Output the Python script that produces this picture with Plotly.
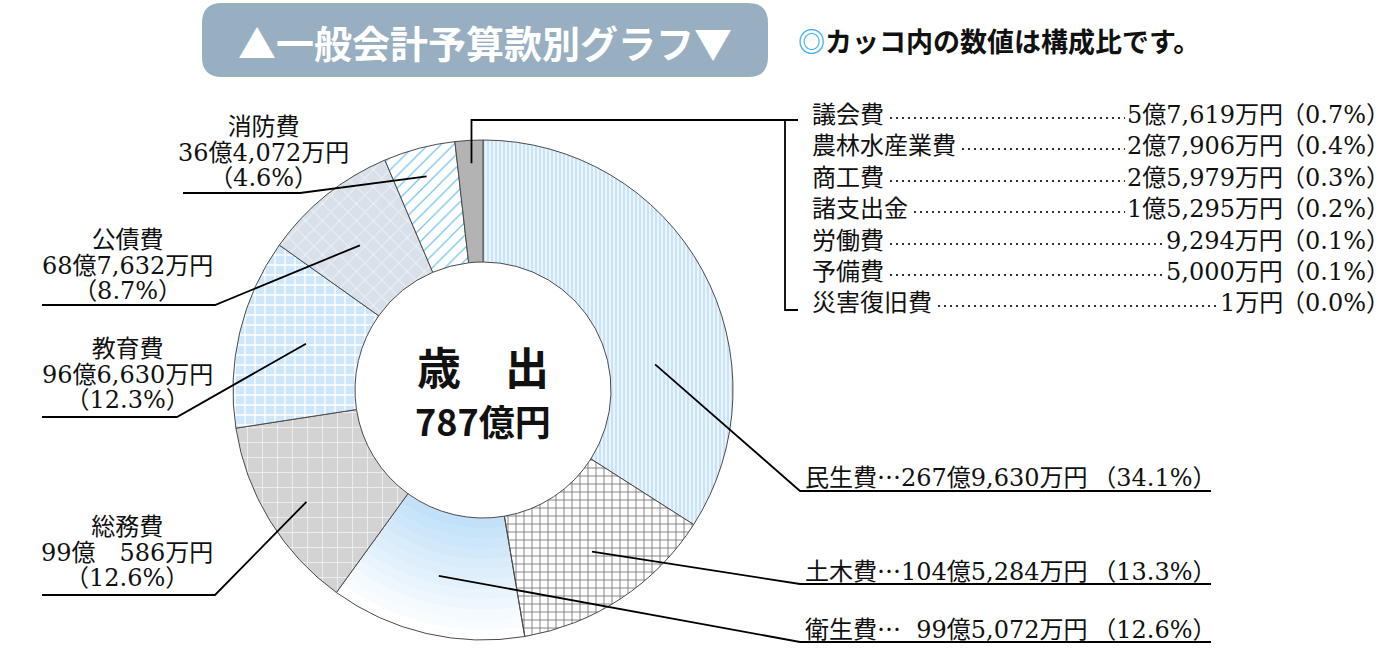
import math
import plotly.graph_objects as go

# ---------------- data ----------------
major_names = ["民生費", "土木費", "衛生費", "総務費", "教育費", "公債費", "消防費"]
major_values = [2679630, 1045284, 995072, 990586, 966630, 687632, 364072]  # 万円
major_amounts = ["267億9,630万円", "104億5,284万円", "99億5,072万円", "99億\u3000586万円",
                 "96億6,630万円", "68億7,632万円", "36億4,072万円"]
major_shares = [34.1, 13.3, 12.6, 12.6, 12.3, 8.7, 4.6]

minor_names = ["議会費", "農林水産業費", "商工費", "諸支出金", "労働費", "予備費", "災害復旧費"]
minor_values = [57619, 27906, 25979, 15295, 9294, 5000, 1]  # 万円
minor_amounts = ["5億7,619万円", "2億7,906万円", "2億5,979万円", "1億5,295万円",
                 "9,294万円", "5,000万円", "1万円"]
minor_shares = [0.7, 0.4, 0.3, 0.2, 0.1, 0.1, 0.0]

center_title = "歳\u3000出"
center_total = "787億円"
chart_title = "▲一般会計予算款別グラフ▼"
note_text = "カッコ内の数値は構成比です。"

# ---------------- layout helpers ----------------
W, H = 1394, 668
CX, CY, R_OUT, R_IN = 483, 390, 250, 128


def px(x):
    return x / W


def py(y):
    return 1 - y / H


def dom(r):
    return dict(x=[px(CX - r), px(CX + r)], y=[py(CY + r), py(CY - r)])


SERIF = "DejaVu Serif, Noto Sans CJK JP"
SANS = "Noto Sans CJK JP"
FS = 24
CLEAR = "rgba(0,0,0,0)"

slice_labels = major_names + ["その他"]
slice_values = major_values + [sum(minor_values)]
n_slices = len(slice_values)

bg = ["#c9e4f9", "#ffffff", CLEAR, "#d3d3d3", "#cfe7fa", "#d8e1e9", "#ffffff", "#b3b3b3"]
fg = ["#ffffff", "#6e6e6e", CLEAR, "#f3f3f3", "#ffffff", "#f3f6f9", "#5bbcf0", "#b3b3b3"]
shapes_pat = ["|", "+", "", "+", "+", "x", "/", ""]
sizes_pat = [4, 8, 8, 15, 10, 12, 9, 8]
solid_pat = [0.3, 0.2, 0.3, 0.1, 0.25, 0.15, 0.13, 0.3]

fig = go.Figure()

# gradient rings for 衛生費 (light blue at the inner edge fading to white outside)
N_RING = 12
grad_in, grad_out = (194, 225, 248), (255, 255, 255)
for k in range(N_RING):
    r0 = R_IN + (R_OUT - R_IN) * k / N_RING
    r1 = min(R_OUT, R_IN + (R_OUT - R_IN) * (k + 1) / N_RING + 0.6)
    f = k / (N_RING - 1)
    col = "rgb(%d,%d,%d)" % tuple(round(a + (b - a) * f) for a, b in zip(grad_in, grad_out))
    cols = [CLEAR] * n_slices
    cols[2] = col
    fig.add_trace(go.Pie(
        labels=slice_labels, values=slice_values, sort=False, direction="clockwise",
        rotation=0, hole=r0 / r1, textinfo="none", hoverinfo="skip",
        marker=dict(colors=cols, line=dict(width=0)), domain=dom(r1)))

fig.add_trace(go.Pie(
    labels=slice_labels,
    values=slice_values,
    sort=False,
    direction="clockwise",
    rotation=0,
    hole=R_IN / R_OUT,
    textinfo="none",
    hoverinfo="label+value",
    marker=dict(
        colors=bg,
        line=dict(color="#4a4a4a", width=1),
        pattern=dict(shape=shapes_pat, fgcolor=fg, bgcolor=bg, size=sizes_pat,
                     solidity=solid_pat, fillmode="replace"),
    ),
    domain=dom(R_OUT),
))

# anchor points on slices computed from data
total = sum(slice_values)
cum = [0]
for v in slice_values:
    cum.append(cum[-1] + v / total)
t_pos = [0.665, 0.49, 0.505, 0.48, 0.53, 0.45, 0.5, 0.55]
r_pos = [174, 195, 191, 209, 183, 190, 221, 227]
anchors = []
for i in range(n_slices):
    th = 2 * math.pi * (cum[i] + t_pos[i] * (cum[i + 1] - cum[i]))
    anchors.append((CX + r_pos[i] * math.sin(th), CY - r_pos[i] * math.cos(th)))

shapes = []
annotations = []


def path(points, color="#000", width=1.8, dash=None):
    d = "M " + " L ".join(f"{px(x):.5f},{py(y):.5f}" for x, y in points)
    ln = dict(color=color, width=width)
    if dash:
        ln["dash"] = dash
    shapes.append(dict(type="path", xref="paper", yref="paper", path=d, line=ln,
                       fillcolor=CLEAR))


def text(x, y, s, size=FS, family=SERIF, color="#111", xanchor="center", weight="normal"):
    annotations.append(dict(x=px(x), y=py(y), xref="paper", yref="paper", text=s,
                            showarrow=False, xanchor=xanchor, yanchor="middle",
                            font=dict(size=size, family=family, color=color, weight=weight)))


def pct(s):
    return f"（{s:.1f}%）"


def big(s):
    return f'<span style="font-size:{FS}px">{s}</span>'


# right-side labels (民生費, 土木費, 衛生費)
right_under = [491, 584, 642]
for k, i in enumerate([0, 1, 2]):
    ax, ay = anchors[i]
    uy = right_under[k]
    path([(ax, ay), (800, uy), (1211, uy)])
    head = major_amounts[i].split("億")[0]
    pad = "\u2007" * (3 - len(head))
    s = (major_names[i] + '<span style="font-family:Noto Sans CJK JP">…</span>' + pad
         + major_amounts[i] + "\u2009" + pct(major_shares[i]))
    text(803, uy - 15, s, xanchor="left")

# left-side labels (総務費, 教育費, 公債費, 消防費): three lines, 25.5px apart
LINE_GAP = 25.5
left_cfg = {3: (127, 527, 595, 215, 42), 4: (127, 349, 417, 177, 42),
            5: (127, 240, 305, 215, 42), 6: (263, 127, 193, 300, 183)}
for i, (cx, y0, uy, ex, lx) in left_cfg.items():
    ax, ay = anchors[i]
    path([(ax, ay), (ex, uy), (lx, uy)])
    s = "<br>".join(big(t) for t in (major_names[i], major_amounts[i], pct(major_shares[i])))
    text(cx, y0 + LINE_GAP, s, size=LINE_GAP / 1.3)

# gray slice leader + bracket
ax, ay = anchors[7]
path([(ax, ay), (ax, 120), (798, 120)])
path([(785, 120), (785, 310), (798, 310)])

# minor list
row_y = [115, 146, 178, 209, 241, 272, 303]
NAME_X, AMT_R, PCT_R = 810, 1285, 1392


def est_width(s):
    w = 0
    for ch in s:
        if ch.isdigit():
            w += 0.636 * FS
        elif ch in ",.":
            w += 0.318 * FS
        else:
            w += FS
    return w


for j, name in enumerate(minor_names):
    y = row_y[j]
    text(NAME_X, y, name, xanchor="left")
    text(AMT_R, y, minor_amounts[j], xanchor="right")
    text(PCT_R, y, pct(minor_shares[j]), xanchor="right")
    x0 = NAME_X + len(name) * FS + 8
    x1 = AMT_R - est_width(minor_amounts[j]) - 4
    path([(x0, y + 3), (x1, y + 3)], width=2, dash="2px,4px", color="#333")

# center text
text(CX, 366, center_title, size=44, family=SANS, color="#111", weight="bold")
text(CX, 420, center_total, size=36, family=SANS, color="#111", weight="bold")

# title box
x0b, x1b, y0b, y1b, rr = 202, 768, 3, 77, 20
pts = (f"M {px(x0b + rr)},{py(y0b)} L {px(x1b - rr)},{py(y0b)} "
       f"Q {px(x1b)},{py(y0b)} {px(x1b)},{py(y0b + rr)} L {px(x1b)},{py(y1b - rr)} "
       f"Q {px(x1b)},{py(y1b)} {px(x1b - rr)},{py(y1b)} L {px(x0b + rr)},{py(y1b)} "
       f"Q {px(x0b)},{py(y1b)} {px(x0b)},{py(y1b - rr)} L {px(x0b)},{py(y0b + rr)} "
       f"Q {px(x0b)},{py(y0b)} {px(x0b + rr)},{py(y0b)} Z")
shapes.insert(0, dict(type="path", xref="paper", yref="paper", path=pts,
                      fillcolor="#98afc1", line=dict(width=0)))
text(485, 41, chart_title, size=38, family=SANS, color="#ffffff", weight="bold")

# note
text(796, 40, '<span style="color:#3aaee6">◎</span>' + note_text, size=27, family=SANS,
     color="#111", xanchor="left", weight="bold")

fig.update_layout(width=W, height=H, margin=dict(l=0, r=0, t=0, b=0),
                  paper_bgcolor="white", plot_bgcolor="white", showlegend=False,
                  shapes=shapes, annotations=annotations)

fig.write_html("out.html", config={"displayModeBar": False},
               post_script="document.body.style.margin='0px';")
